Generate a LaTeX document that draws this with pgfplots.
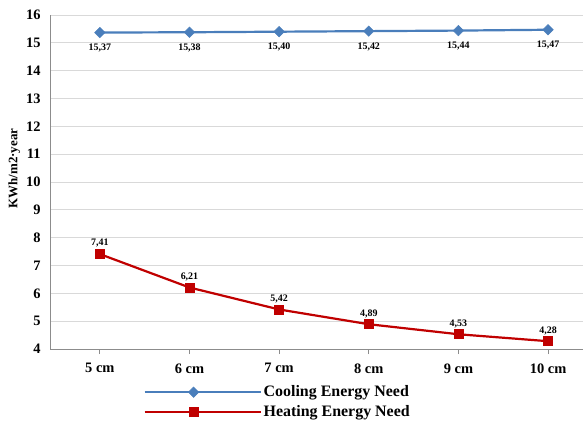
\documentclass[border=0pt]{standalone}
\usepackage{fontspec}
\setmainfont{Liberation Serif}
\usepackage{pgfplots}
\usepackage{pgfplotstable}
\pgfplotsset{compat=1.18}

\definecolor{coolblue}{RGB}{74,126,187}
\definecolor{heatred}{RGB}{192,0,0}
\definecolor{gridgray}{RGB}{217,217,217}
\definecolor{axisgray}{RGB}{140,140,140}

% insulation thickness index, energy need, printed label
\pgfplotstableread{
x y lab
0 15.37 15,37
1 15.38 15,38
2 15.40 15,40
3 15.42 15,42
4 15.44 15,44
5 15.47 15,47
}\cooling
\pgfplotstableread{
x y lab
0 7.41 7,41
1 6.21 6,21
2 5.42 5,42
3 4.89 4,89
4 4.53 4,53
5 4.28 4,28
}\heating

\begin{document}
\begin{tikzpicture}
\useasboundingbox (0,0) rectangle (586bp,421bp);
\begin{axis}[
  at={(50bp,72bp)}, anchor=south west,
  scale only axis, width=533bp, height=334bp,
  xmin=-0.556, xmax=5.39, ymin=4, ymax=16,
  xtick={0,...,5},
  xticklabels={5 cm,6 cm,7 cm,8 cm,9 cm,10 cm},
  ytick={4,...,16},
  yticklabels={4,5,6,7,8,9,10,11,12,13,14,15,16},
  axis x line*=bottom, axis y line*=left,
  axis line style={axisgray, line width=0.8pt, -},
  ymajorgrids, grid style={gridgray, line width=0.8pt},
  ytick style={draw=none},
  xtick style={axisgray, line width=0.8pt},
  tick align=outside, major tick length=5bp,
  tick label style={font=\bfseries\fontsize{14.5}{14.5}\selectfont},
  yticklabel style={xshift=-1bp},
  xticklabel style={yshift=-6bp},
  ylabel={KWh/m2·year},
  ylabel style={font=\bfseries\fontsize{13}{13}\selectfont,
    at={(ticklabel cs:0.54)}, yshift=-1bp},
  legend style={
    at={(rel axis cs:0.175,-0.104)}, anchor=north west,
    draw=none, fill=none,
    font=\bfseries\fontsize{16}{16}\selectfont,
    row sep=3bp, inner sep=0pt,
    /tikz/every even column/.append style={column sep=0pt},
  },
  legend cell align=left,
  legend image code/.code={
    \draw[#1, mark repeat=2, mark phase=2]
      plot coordinates {(0bp,0bp) (49bp,0bp) (98bp,0bp)};
    \path (98bp,0bp) -- (116bp,0bp);
  },
  nodes near coords,
  point meta=explicit symbolic,
]
\addplot[coolblue, line width=2.2bp, mark=square*, mark size=3.7bp,
  mark options={fill=coolblue, draw=coolblue, line width=0.5pt, rotate=45},
  every node near coord/.append style={font=\bfseries\fontsize{10}{10}\selectfont,
    text=black, anchor=north, yshift=-8bp}]
  table[x=x, y=y, meta=lab] {\cooling};
\addlegendentry{Cooling Energy Need}
\addplot[heatred, line width=2.2bp, mark=square*, mark size=4.5bp,
  mark options={fill=heatred, draw=heatred, line width=0.5pt},
  every node near coord/.append style={font=\bfseries\fontsize{10}{10}\selectfont,
    text=black, anchor=south, yshift=3bp}]
  table[x=x, y=y, meta=lab] {\heating};
\addlegendentry{Heating Energy Need}
\end{axis}
\end{tikzpicture}
\end{document}
